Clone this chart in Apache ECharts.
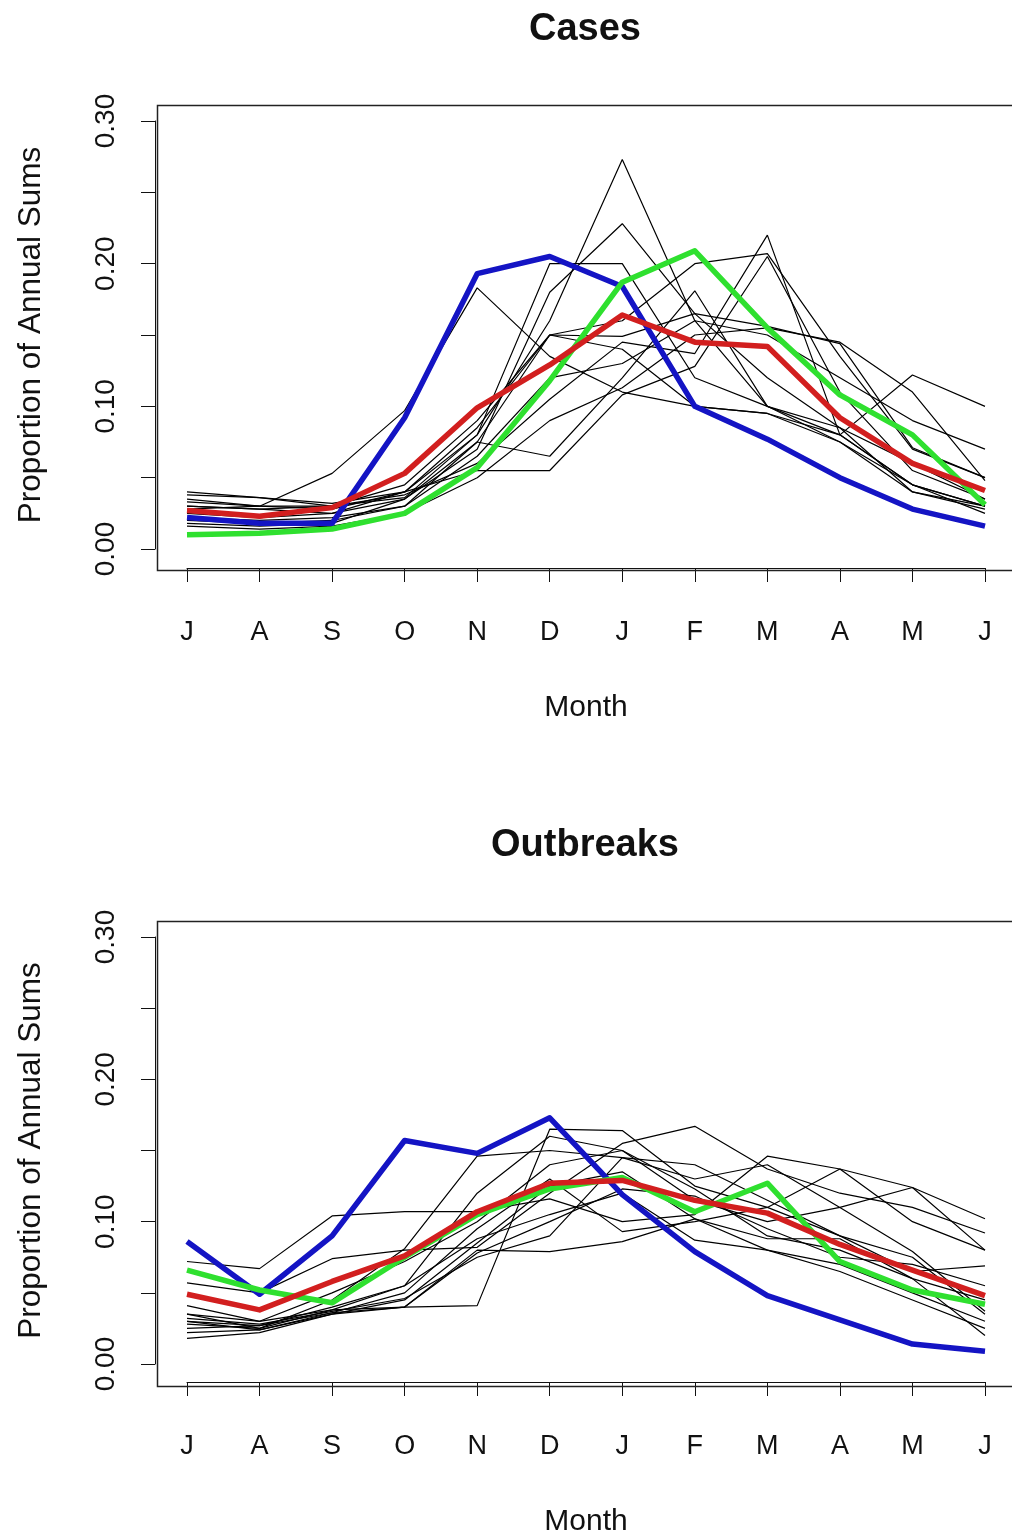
<!DOCTYPE html>
<html><head><meta charset="utf-8">
<script src="https://cdn.jsdelivr.net/npm/echarts@6/dist/echarts.min.js"></script>
<style>html,body{margin:0;padding:0;background:#fff}#c{width:1012px;height:1538px}</style>
</head><body><div id="c"></div><script>
// ---------- data ----------
const months = ['J','A','S','O','N','D','J','F','M','A','M','J'];
const panelTitles = ['Cases', 'Outbreaks'];
const yLabelTicks = [0.00, 0.10, 0.20, 0.30];

// Cases panel: individual years (black)
const casesYr01 = [0.035,0.030,0.028,0.040,0.080,0.160,0.273,0.160,0.100,0.075,0.045,0.030];
const casesYr02 = [0.030,0.028,0.025,0.035,0.070,0.180,0.228,0.165,0.120,0.085,0.040,0.028];
const casesYr03 = [0.028,0.030,0.053,0.097,0.183,0.135,0.110,0.100,0.095,0.080,0.045,0.030];
const casesYr04 = [0.040,0.036,0.030,0.038,0.060,0.105,0.145,0.137,0.220,0.080,0.122,0.100];
const casesYr05 = [0.030,0.028,0.030,0.045,0.090,0.150,0.160,0.200,0.207,0.135,0.070,0.050];
const casesYr06 = [0.020,0.018,0.020,0.030,0.075,0.150,0.149,0.165,0.156,0.144,0.071,0.050];
const casesYr07 = [0.025,0.022,0.025,0.040,0.055,0.055,0.108,0.128,0.205,0.110,0.055,0.035];
const casesYr08 = [0.018,0.016,0.018,0.035,0.075,0.065,0.120,0.181,0.100,0.085,0.060,0.035];
const casesYr09 = [0.033,0.030,0.030,0.036,0.080,0.200,0.200,0.120,0.100,0.080,0.045,0.025];
const casesYr10 = [0.022,0.020,0.022,0.030,0.065,0.120,0.130,0.160,0.150,0.120,0.090,0.070];
const casesYr11 = [0.038,0.036,0.032,0.040,0.085,0.150,0.140,0.100,0.095,0.075,0.040,0.030];
const casesYr12 = [0.016,0.014,0.016,0.025,0.050,0.090,0.113,0.150,0.155,0.145,0.110,0.048];
// Cases panel: highlighted lines
const casesBlue  = [0.022,0.018,0.018,0.092,0.193,0.205,0.184,0.100,0.077,0.050,0.028,0.016];
const casesRed   = [0.027,0.023,0.029,0.053,0.099,0.129,0.164,0.145,0.142,0.092,0.060,0.041];
const casesGreen = [0.010,0.011,0.014,0.025,0.057,0.118,0.187,0.209,0.155,0.108,0.080,0.031];

// Outbreaks panel: individual years (black)
const outbrYr01 = [0.028,0.025,0.038,0.040,0.041,0.165,0.164,0.125,0.110,0.090,0.075,0.035];
const outbrYr02 = [0.035,0.025,0.045,0.081,0.146,0.150,0.145,0.130,0.140,0.110,0.079,0.037];
const outbrYr03 = [0.072,0.067,0.104,0.107,0.107,0.116,0.100,0.105,0.146,0.137,0.124,0.080];
const outbrYr04 = [0.057,0.050,0.074,0.080,0.082,0.120,0.155,0.167,0.137,0.120,0.110,0.092];
const outbrYr05 = [0.041,0.030,0.050,0.072,0.100,0.140,0.150,0.115,0.100,0.110,0.124,0.102];
const outbrYr06 = [0.032,0.028,0.037,0.046,0.075,0.090,0.145,0.140,0.115,0.090,0.065,0.069];
const outbrYr07 = [0.030,0.024,0.035,0.040,0.080,0.079,0.086,0.102,0.088,0.088,0.060,0.020];
const outbrYr08 = [0.022,0.024,0.036,0.050,0.095,0.130,0.093,0.100,0.110,0.137,0.100,0.080];
const outbrYr09 = [0.018,0.022,0.035,0.045,0.085,0.125,0.135,0.102,0.080,0.070,0.050,0.030];
const outbrYr10 = [0.025,0.027,0.040,0.055,0.120,0.160,0.150,0.123,0.090,0.080,0.060,0.045];
const outbrYr11 = [0.035,0.030,0.038,0.055,0.088,0.105,0.120,0.087,0.080,0.065,0.045,0.025];
const outbrYr12 = [0.030,0.027,0.036,0.040,0.078,0.100,0.123,0.118,0.095,0.075,0.070,0.055];
// Outbreaks panel: highlighted lines
const outbrBlue  = [0.086,0.049,0.090,0.157,0.148,0.173,0.119,0.079,0.048,0.031,0.014,0.009];
const outbrRed   = [0.049,0.038,0.058,0.076,0.107,0.127,0.129,0.115,0.106,0.084,0.066,0.048];
const outbrGreen = [0.066,0.052,0.043,0.075,0.105,0.123,0.131,0.107,0.127,0.072,0.052,0.042];

const casesYears = [casesYr01,casesYr02,casesYr03,casesYr04,casesYr05,casesYr06,casesYr07,casesYr08,casesYr09,casesYr10,casesYr11,casesYr12];
const outbrYears = [outbrYr01,outbrYr02,outbrYr03,outbrYr04,outbrYr05,outbrYr06,outbrYr07,outbrYr08,outbrYr09,outbrYr10,outbrYr11,outbrYr12];

// ---------- styling / layout ----------
const FONT = '"Liberation Sans", Arial, sans-serif';
const COL_BLUE = '#1414c4', COL_RED = '#d21f1f', COL_GREEN = '#2fe02f';
const panels = [
  {gridTop: 121, gridH: 428, boxTop: 103, titleTop: 6, years: casesYears, blue: casesBlue, red: casesRed, green: casesGreen},
  {gridTop: 937, gridH: 429, boxTop: 919, titleTop: 822, years: outbrYears, blue: outbrBlue, red: outbrRed, green: outbrGreen}
];
const GRID_LEFT = 187, GRID_W = 798, BOX_LEFT = 155, BOX_W = 862, BOX_H = 465;

const grids = [], xAxes = [], yAxes = [], series = [], titles = [], graphics = [];
panels.forEach((p, i) => {
  grids.push({left: GRID_LEFT, top: p.gridTop, width: GRID_W, height: p.gridH});
  xAxes.push({
    type: 'category', gridIndex: i, data: months, boundaryGap: false,
    offset: p.boxTop + BOX_H - (p.gridTop + p.gridH),
    axisLine: {show: true, onZero: false, lineStyle: {color: '#111', width: 1}},
    axisTick: {show: true, length: 14, lineStyle: {color: '#111', width: 1}},
    axisLabel: {fontFamily: FONT, fontSize: 27, color: '#111', margin: 51, interval: 0},
    splitLine: {show: false},
    name: 'Month', nameLocation: 'middle', nameGap: 125,
    nameTextStyle: {fontFamily: FONT, fontSize: 30, color: '#111'}
  });
  yAxes.push({
    type: 'value', gridIndex: i, min: 0, max: 0.30, interval: 0.05,
    offset: GRID_LEFT - BOX_LEFT,
    axisLine: {show: true, onZero: false, lineStyle: {color: '#111', width: 1}},
    axisTick: {show: true, length: 14, lineStyle: {color: '#111', width: 1}},
    axisLabel: {
      fontFamily: FONT, fontSize: 28, color: '#111', rotate: 90, margin: 35,
      formatter: v => yLabelTicks.some(t => Math.abs(t - v) < 1e-9) ? v.toFixed(2) : ''
    },
    splitLine: {show: false},
    name: 'Proportion of Annual Sums', nameLocation: 'middle', nameGap: 108,
    nameTextStyle: {fontFamily: FONT, fontSize: 31.5, color: '#111'}
  });
  p.years.forEach(d => series.push({
    type: 'line', xAxisIndex: i, yAxisIndex: i, data: d, symbol: 'none', silent: true,
    lineStyle: {color: '#000', width: 1.2}, z: 2
  }));
  [[p.blue, COL_BLUE, 3], [p.green, COL_GREEN, 4], [p.red, COL_RED, 5]].forEach(([d, c, z]) => series.push({
    type: 'line', xAxisIndex: i, yAxisIndex: i, data: d, symbol: 'none', silent: true,
    lineStyle: {color: c, width: 5.5, join: 'round'}, z: z
  }));
  titles.push({
    text: panelTitles[i], left: 580, top: p.titleTop, textAlign: 'center',
    textStyle: {fontFamily: FONT, fontSize: 38, fontWeight: 'bold', color: '#111'}
  });
  graphics.push({
    type: 'rect', left: BOX_LEFT, top: p.boxTop, silent: true, z: 10,
    shape: {width: BOX_W, height: BOX_H},
    style: {fill: 'none', stroke: '#222', lineWidth: 1.5}
  });
});

const chart = echarts.init(document.getElementById('c'), null, {renderer: 'canvas'});
chart.setOption({
  backgroundColor: '#fff', animation: false,
  title: titles, grid: grids, xAxis: xAxes, yAxis: yAxes, series: series, graphic: graphics
});
</script></body></html>
